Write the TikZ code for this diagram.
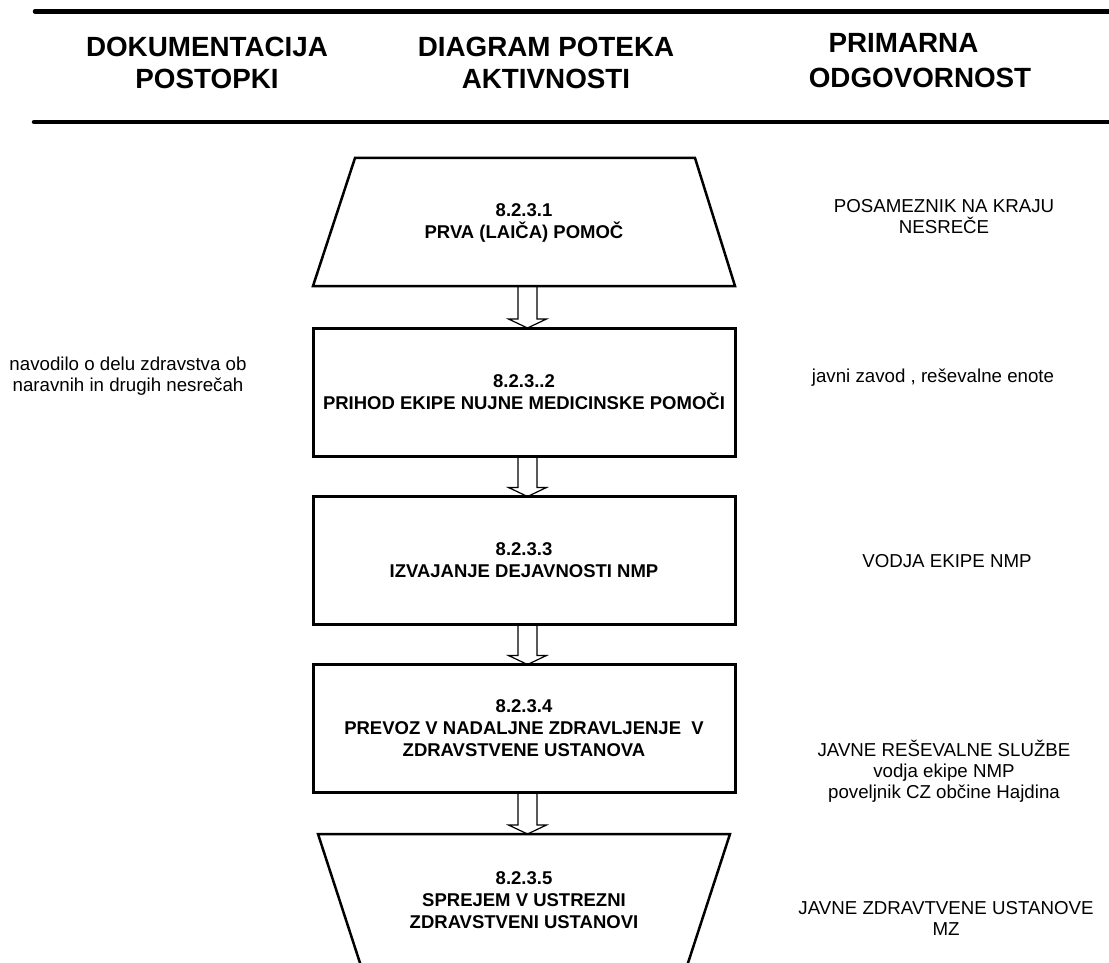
\documentclass[tikz,border=0pt]{standalone}
\usepackage{fontspec}
\setmainfont{Liberation Sans}
\usetikzlibrary{calc}
\newcommand\blockarrow[2]{%
  \draw[barrow] ($(#1)+(-9.5,0)$) -- ($(#2)+(-9.5,-9)$) -- ($(#2)+(-19,-9)$) -- (#2)
    -- ($(#2)+(19,-9)$) -- ($(#2)+(9.5,-9)$) -- ($(#1)+(9.5,0)$);}
\begin{document}
\begin{tikzpicture}[x=1pt,y=-1pt,
  hdr/.style={font=\fontsize{27.8}{32}\selectfont\bfseries, inner sep=0, align=center},
  boxtxt/.style={font=\fontsize{18.5}{22}\selectfont\bfseries, align=center, inner sep=0},
  side/.style={font=\fontsize{18.7}{21}\selectfont, align=center, inner sep=0},
  stepbox/.style={draw, line width=3pt, minimum width=422pt, minimum height=128pt,
    inner sep=0, outer sep=0, align=center, font=\fontsize{18.5}{22}\selectfont\bfseries},
  shapeline/.style={line width=2.5pt, line join=miter},
  rule/.style={line width=4.5pt, line cap=round},
  barrow/.style={line width=1.2pt, line join=miter}]
\useasboundingbox (0,0) rectangle (1109,963);

% header rules
\coordinate (r1a) at (35,11.5);
\coordinate (r1b) at (1115,11.5);
\coordinate (r2a) at (34,122);
\coordinate (r2b) at (1115,122);
\draw[rule] (r1a) -- (r1b);
\draw[rule] (r2a) -- (r2b);

% headers
\node[hdr] (h1) at (207,62.5) {DOKUMENTACIJA\\POSTOPKI};
\node[hdr] (h2) at (546,63.3) {DIAGRAM POTEKA\\AKTIVNOSTI};
\node[hdr] (h3a) at (903.5,42.5) {PRIMARNA};
\node[hdr] (h3b) at (920,77.5) {ODGOVORNOST};

% trapezium 1
\coordinate (t1tl) at (355,158);
\coordinate (t1tr) at (695,158);
\coordinate (t1br) at (735,286);
\coordinate (t1bl) at (313,286);
\draw[shapeline] (t1tl) -- (t1tr) -- (t1br) -- (t1bl) -- cycle;
\node[boxtxt] (t1) at (524,222.5) {8.2.3.1\\PRVA (LAIČA) POMOČ};

% boxes
\node[stepbox] (b2) at (524,392) {8.2.3..2\\PRIHOD EKIPE NUJNE MEDICINSKE POMOČI};
\node[stepbox] (b3) at (524,560.5) {8.2.3.3\\IZVAJANJE DEJAVNOSTI NMP};
\node[stepbox] (b4) at (524,728.5) {8.2.3.4\\PREVOZ V NADALJNE ZDRAVLJENJE\ \ V\\ZDRAVSTVENE USTANOVA};

% trapezium 5 (cut by the page edge)
\coordinate (t5tl) at (318,834);
\coordinate (t5tr) at (730,834);
\coordinate (t5br) at (687,966);
\coordinate (t5bl) at (361,966);
\draw[shapeline] (t5bl) -- (t5tl) -- (t5tr) -- (t5br);
\node[boxtxt] (t5) at (524,900.5) {8.2.3.5\\SPREJEM V USTREZNI\\ZDRAVSTVENI USTANOVI};

% block arrows
\path ($(t1bl)!0.5!(t1br)$) ++(3.5,0) coordinate (a1s);
\path (b2.north) ++(3.5,0) coordinate (a1e);
\path (b2.south) ++(3.5,0) coordinate (a2s);
\path (b3.north) ++(3.5,0) coordinate (a2e);
\path (b3.south) ++(3.5,0) coordinate (a3s);
\path (b4.north) ++(3.5,0) coordinate (a3e);
\path (b4.south) ++(3.5,0) coordinate (a4s);
\path ($(t5tl)!0.5!(t5tr)$) ++(3.5,0) coordinate (a4e);
\blockarrow{a1s}{a1e}
\blockarrow{a2s}{a2e}
\blockarrow{a3s}{a3e}
\blockarrow{a4s}{a4e}

% left documentation
\node[side] (d2) at (128,376.5) {navodilo o delu zdravstva ob\\naravnih in drugih nesrečah};

% responsibilities
\node[side] (s1) at (944,217) {POSAMEZNIK NA KRAJU\\NESREČE};
\node[side] (s2) at (933,378) {javni zavod , reševalne enote};
\node[side] (s3) at (947,561) {VODJA EKIPE NMP};
\node[side] (s4) at (944,771) {JAVNE REŠEVALNE SLUŽBE\\vodja ekipe NMP\\poveljnik CZ občine Hajdina};
\node[side] (s5) at (946,918.5) {JAVNE ZDRAVTVENE USTANOVE\\MZ};
\end{tikzpicture}
\end{document}
